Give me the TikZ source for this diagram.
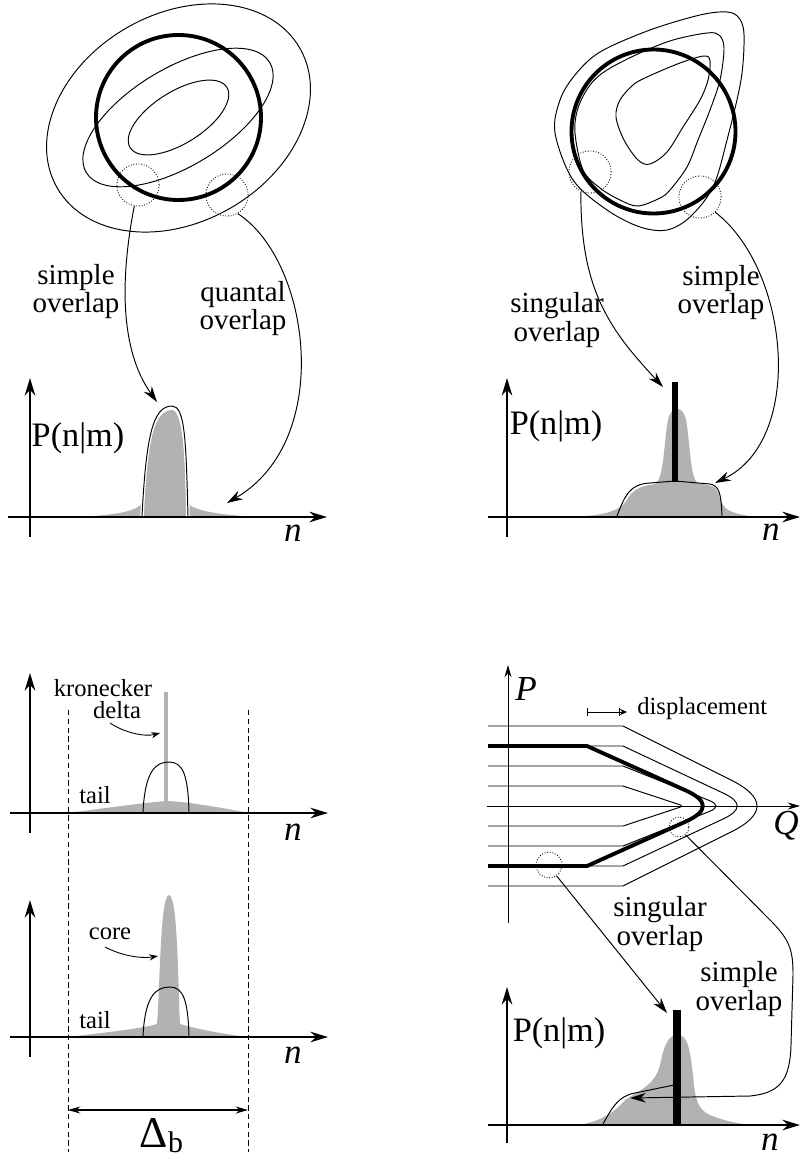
\documentclass[tikz,border=0pt]{standalone}
\usepackage{fontspec}
\setmainfont{Liberation Serif}
\usepackage{tikz}
\usetikzlibrary{arrows.meta, positioning, calc}
\definecolor{peakgray}{gray}{0.7}

\begin{document}
\begin{tikzpicture}[
        x=0.02cm, y=-0.02cm,
        >=Stealth,
        % thin contour lines of the distributions
        contour/.style={line width=0.55pt},
        % the big circle / thick contour of the state
        coherent/.style={line width=2.2pt, line join=round},
        % dotted marks where two curves meet
        spot/.style={circle, draw, densely dotted, line width=0.5pt, inner sep=0pt, minimum size=24pt},
        % axes of the plots
        plotaxis/.style={line width=1.1pt, -{Stealth[length=10pt,width=6pt]}},
        thinaxis/.style={line width=0.55pt, -{Stealth[length=7pt,width=4pt]}},
        % pointers from the marks to the plots
        pointer/.style={line width=0.55pt, -{Stealth[length=9pt,width=5.5pt]}},
        shortpointer/.style={line width=0.5pt, -{Stealth[length=5pt,width=3.5pt]}},
        % texts
        remark/.style={font=\fontsize{16.5}{14.2}\selectfont, align=center, inner sep=0pt},
        smallremark/.style={font=\fontsize{14}{13}\selectfont, align=center, inner sep=0pt},
        probname/.style={font=\fontsize{19.5}{20}\selectfont, inner sep=0pt},
        varname/.style={font=\fontsize{20}{20}\selectfont\itshape, inner sep=0pt},
        peak/.style={fill=peakgray, draw=none},
        outline/.style={line width=0.55pt, preaction={draw=white, line width=2pt}},
        boundary/.style={line width=0.5pt, dash pattern=on 3pt off 2pt}
    ]
    \useasboundingbox (0,0) rectangle (800,1158);

    % 1. Top left: elliptic contours and the circle
    \draw[contour, rotate around={30:(178.5,118)}] (178.5,118) ellipse [x radius=140, y radius=104];
    \draw[contour, rotate around={31:(178,117.5)}] (178,117.5) ellipse [x radius=107, y radius=49];
    \draw[contour, rotate around={32:(178.5,117.5)}] (178.5,117.5) ellipse [x radius=57, y radius=26];
    \draw[coherent] (178.5,117.5) circle [radius=82.5];
    \node[spot] (tlSimpleSpot) at (138,185) {};
    \node[spot] (tlQuantalSpot) at (227,195) {};

    \node[remark] (tlSimple) at (76,292) {simple\\overlap};
    \node[remark] (tlQuantal) at (243,309) {quantal\\overlap};

    % top left plot
    \fill[peak] (55,517) .. controls (110,517) and (138,512) .. (143,502)
        .. controls (147,470) and (148,410) .. (172,410)
        .. controls (184,410) and (185,470) .. (187,502)
        .. controls (192,512) and (230,516) .. (265,517) -- cycle;
    \draw[plotaxis] (30,537) -- (30,378);
    \draw[plotaxis] (8,517) -- (327,517);
    \draw[outline] (142,516) .. controls (146,440) and (152,406) .. (172,406)
        .. controls (185,406) and (186,440) .. (188,516);
    \node[probname] (tlProb) at (78,438) {P(n|m)};
    \node[varname] (tlN) at (293,533) {n};

    \coordinate (tlSimpleTip) at (157,402);
    \coordinate (tlQuantalTip) at (227,503);
    \draw[pointer] (tlSimpleSpot.-100) .. controls (120,280) and (120,350) .. (tlSimpleTip);
    \draw[pointer] (tlQuantalSpot.-60) .. controls (310,260) and (335,440) .. (tlQuantalTip);

    % 2. Top right: bent contours and the circle
    \draw[contour] plot[smooth cycle, tension=0.55] coordinates {(555,133) (560,100) (575,75) (600,52) (650,30) (700,15) (727,12) (739,18) (744,35) (741,80) (727,140) (713,187) (690,217) (667,230) (640,227) (607,210) (573,180)};
    \draw[contour] plot[smooth cycle, tension=0.55] coordinates {(575,133) (578,108) (590,85) (607,70) (640,53) (673,40) (707,33) (719,35) (724,48) (720,80) (710,110) (698,140) (687,167) (670,190) (660,198) (638,206) (620,200) (600,188) (583,170)};
    \draw[contour] plot[smooth cycle, tension=0.55] coordinates {(616,117) (620,100) (633,85) (647,77) (680,63) (704,56) (710,61) (708,80) (700,100) (683,127) (667,152) (650,164) (638,160) (624,140)};
    \draw[coherent] (653.5,131.5) circle [radius=82];
    \node[spot] (trSingularSpot) at (590,172) {};
    \node[spot] (trSimpleSpot) at (700,197) {};

    \node[remark] (trSingular) at (557,320) {singular\\overlap};
    \node[remark] (trSimple) at (721,293) {simple\\overlap};

    % top right plot
    \fill[peak] (570,517) .. controls (600,516) and (620,512) .. (627,500)
        .. controls (632,490) and (640,486) .. (655,484)
        .. controls (664,480) and (664,440) .. (668,420)
        .. controls (671,405) and (683,405) .. (686,420)
        .. controls (690,440) and (690,480) .. (698,483) -- (712,486)
        .. controls (720,488) and (719,505) .. (728,510)
        .. controls (740,516) and (755,517) .. (767,517) -- cycle;
    \draw[plotaxis] (507,537) -- (507,378);
    \draw[plotaxis] (488,517) -- (800,517);
    \draw[contour] (617,516) .. controls (625,495) and (630,484) .. (650,483)
        -- (675,481) -- (710,484) .. controls (720,486) and (721,495) .. (722,516);
    \draw[line width=3.5pt] (675,382) -- (675,482);
    \node[probname] (trProb) at (556,426) {P(n|m)};
    \node[varname] (trN) at (771,532) {n};

    \coordinate (trSingularTip) at (663,387);
    \coordinate (trSimpleTip) at (715,483);
    \draw[pointer] (trSingularSpot.-115) .. controls (580,290) and (610,330) .. (trSingularTip);
    \draw[pointer] (trSimpleSpot.-45) .. controls (790,270) and (805,440) .. (trSimpleTip);

    % 3. Bottom left: kronecker delta and core with tails
    \draw[boundary] (68,710) -- (68,1152);
    \draw[boundary] (248,710) -- (248,1152);

    % upper plot
    \fill[peak] (68,813) .. controls (90,810) and (150,802) .. (166,801)
        .. controls (185,801) and (235,810) .. (248,813) -- cycle;
    \draw[peakgray, line width=2.8pt] (166,692) -- (166,813);
    \draw[plotaxis] (30,833) -- (30,673);
    \draw[plotaxis] (10,813) -- (328,813);
    \draw[contour] (143,812) .. controls (145,772) and (155,762) .. (169,762)
        .. controls (183,762) and (188,775) .. (189,812);
    \node[smallremark] (kronecker) at (103,699) {kronecker\\\hspace*{16pt}delta};
    \node[smallremark] (tailA) at (95,795) {tail};
    \node[varname] (blN) at (293,832) {n};
    \coordinate (deltaTip) at (160,733);
    \draw[shortpointer] (110,723) .. controls (125,733) and (145,737) .. (deltaTip);

    % lower plot
    \fill[peak] (68,1037) .. controls (100,1033) and (140,1029) .. (157,1024)
        .. controls (160,990) and (160,895) .. (169,895)
        .. controls (178,895) and (178,990) .. (180,1024)
        .. controls (200,1030) and (230,1035) .. (248,1037) -- cycle;
    \draw[plotaxis] (30,1057) -- (30,900);
    \draw[plotaxis] (10,1037) -- (328,1037);
    \draw[contour] (143,1036) .. controls (145,997) and (155,987) .. (170,987)
        .. controls (183,987) and (188,1000) .. (189,1036);
    \node[smallremark] (core) at (110,934) {core};
    \node[smallremark] (tailB) at (95,1020) {tail};
    \node[varname] (blN2) at (293,1055) {n};
    \coordinate (coreTip) at (158,956);
    \draw[shortpointer] (105,947) .. controls (120,955) and (140,959) .. (coreTip);

    \coordinate (gapL) at (68,1110);
    \coordinate (gapR) at (248,1110);
    \draw[line width=0.6pt, {Stealth[length=7pt,width=4pt]}-{Stealth[length=7pt,width=4pt]}] (gapL) -- (gapR);
    \node[anchor=base, inner sep=0pt, font=\fontsize{25}{25}\selectfont] (gapLabel) at (161.5,1147) {Δ\raisebox{-3pt}{\fontsize{17}{17}\selectfont b}};

    % 4. Bottom right: phase space picture
    \draw[thinaxis] (508,923) -- (508,665);
    \draw[thinaxis] (487,806) -- (800,806);
    \foreach \yt/\sl/\k in {726/0.5/52, 746/0.47/27, 766/0.4/14, 786/0.33/4} {
        \pgfmathsetmacro{\xv}{623+(806-\yt)/\sl}
        \draw[contour] (488,\yt) -- (623,\yt) -- ({\xv-\k},{806-\sl*\k})
            .. controls ({\xv-\k/3},{806-\sl*\k/3}) and ({\xv-\k/3},{806+\sl*\k/3})
            .. ({\xv-\k},{806+\sl*\k}) -- (623,{1612-\yt}) -- (488,{1612-\yt});
    }
    \pgfmathsetmacro{\xv}{587+60/0.45}
    \draw[coherent] (488,746) -- (587,746) -- ({\xv-35},{806-0.45*35})
        .. controls ({\xv-35/3},{806-0.45*35/3}) and ({\xv-35/3},{806+0.45*35/3})
        .. ({\xv-35},{806+0.45*35}) -- (587,866) -- (488,866);
    \node[varname] (pLabel) at (526,689) {P};
    \node[varname] (qLabel) at (786,826) {Q};
    \coordinate (shiftStart) at (587,712);
    \coordinate (shiftEnd) at (627,712);
    \draw[line width=0.5pt, {Bar[width=5pt]}-{Bar[width=5pt]Stealth[length=4pt,width=3.5pt]}] (shiftStart) -- (shiftEnd);
    \node[smallremark, anchor=west] (displacement) at (637,709) {displacement};
    \node[spot, minimum size=14.7pt] (brSingularSpot) at (549,865) {};
    \node[spot, minimum size=11.3pt] (brSimpleSpot) at (679,827) {};

    \node[remark] (brSingular) at (660,924) {singular\\overlap};
    \node[remark] (brSimple) at (739,989) {simple\\overlap};

    % bottom right plot
    \fill[peak] (578,1125) .. controls (600,1122) and (615,1112) .. (625,1100)
        .. controls (640,1090) and (655,1085) .. (660,1065)
        .. controls (665,1040) and (670,1035) .. (678,1035)
        .. controls (688,1035) and (690,1050) .. (693,1075)
        .. controls (695,1105) and (700,1112) .. (715,1117)
        .. controls (730,1122) and (740,1124) .. (752,1125) -- cycle;
    \draw[plotaxis] (507,1143) -- (507,987);
    \draw[plotaxis] (488,1125) -- (800,1125);
    \draw[contour] (603,1124) .. controls (612,1108) and (618,1096) .. (635,1093) -- (674,1085);
    \draw[line width=4pt] (677,1010) -- (677,1125);
    \node[probname] (brProb) at (559,1033) {P(n|m)};
    \node[varname] (brN) at (770,1142) {n};

    \coordinate (brSingularTip) at (667,1013);
    \coordinate (brSimpleTip) at (630,1098);
    \draw[pointer] (brSingularSpot.-55) -- (brSingularTip);
    \draw[pointer] (brSimpleSpot.-50) -- (770,920) .. controls (790,940) and (793,950) .. (793,975)
        -- (791,1045) .. controls (790,1080) and (780,1093) .. (750,1096) -- (brSimpleTip);

\end{tikzpicture}
\end{document}
